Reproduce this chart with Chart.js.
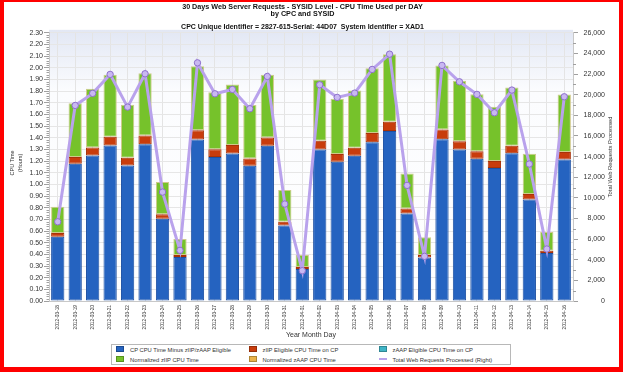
<!DOCTYPE html>
<html><head><meta charset="utf-8">
<script src="https://cdn.jsdelivr.net/npm/chart.js@4.4.1/dist/chart.umd.min.js"></script>
<style>
html,body{margin:0;padding:0;background:#fff;}
#wrap{position:relative;width:623px;height:372px;overflow:hidden;background:#fff;}
#c{position:absolute;left:0;top:0;}
#frame{position:absolute;left:0;top:0;width:623px;height:372px;box-sizing:border-box;border-style:solid;border-color:#ff0000;border-width:2px 4px 5px 4px;pointer-events:none;}
#legend{position:absolute;left:111px;top:344px;width:400px;height:21px;box-sizing:border-box;border:1px solid #b8b8b8;background:#fff;font-family:"Liberation Sans",Arial,sans-serif;font-size:5.8px;color:#333;}
.item{position:absolute;height:8px;line-height:8px;white-space:nowrap;}
.sw{display:inline-block;width:8px;height:6px;vertical-align:middle;margin-right:6px;box-sizing:border-box;border:1px solid rgba(0,0,0,.25);position:relative;top:-1px;}
.ln{display:inline-block;width:8px;height:2px;vertical-align:middle;margin-right:6px;position:relative;top:-1px;}
</style></head>
<body>
<div id="wrap">
<canvas id="c" width="623" height="372"></canvas>
<div id="legend"></div>
<div id="frame"></div>
</div>
<script>
const dates = ['2012-03-18','2012-03-19','2012-03-20','2012-03-21','2012-03-22','2012-03-23','2012-03-24','2012-03-25','2012-03-26','2012-03-27','2012-03-28','2012-03-29','2012-03-30','2012-03-31','2012-04-01','2012-04-02','2012-04-03','2012-04-04','2012-04-05','2012-04-06','2012-04-07','2012-04-08','2012-04-09','2012-04-10','2012-04-11','2012-04-12','2012-04-13','2012-04-14','2012-04-15','2012-04-16'];
const cpMinusEligible = [0.551,1.177,1.248,1.334,1.163,1.345,0.705,0.377,1.386,1.234,1.265,1.160,1.331,0.648,0.274,1.300,1.194,1.245,1.362,1.457,0.751,0.374,1.388,1.300,1.219,1.140,1.268,0.871,0.411,1.214];
const ziipEligibleOnCp = [0.032,0.057,0.069,0.074,0.065,0.075,0.040,0.017,0.079,0.068,0.072,0.063,0.072,0.032,0.017,0.074,0.066,0.069,0.078,0.080,0.043,0.020,0.083,0.071,0.066,0.060,0.063,0.046,0.020,0.063];
const zaapEligibleOnCp = [0,0,0,0,0,0,0,0,0,0,0,0,0,0,0,0,0,0,0,0,0,0,0,0,0,0,0,0,0,0];
const normalizedZiip = [0.225,0.463,0.503,0.532,0.455,0.534,0.275,0.137,0.549,0.489,0.520,0.457,0.537,0.271,0.103,0.526,0.474,0.492,0.557,0.580,0.300,0.152,0.549,0.517,0.489,0.465,0.500,0.345,0.160,0.494];
const normalizedZaap = [0,0,0,0,0,0,0,0,0,0,0,0,0,0,0,0,0,0,0,0,0,0,0,0,0,0,0,0,0,0];
const webRequests = [7680,18960,20130,21970,18800,22030,10560,4910,23090,20090,20510,18640,21770,9400,2940,20960,19740,20155,22450,23930,11210,4330,22840,21250,20030,18250,20450,13280,5040,19800];
const leftTicksMax = 2.30;
const rightTicksMax = 26000;

const FONT = '"Liberation Sans", Arial, sans-serif';

const series = [
  {label:'CP CPU Time Minus zIIP/zAAP Eligible', data:cpMinusEligible, color:'#2563c0', border:'#1d50a3'},
  {label:'zIIP Eligible CPU Time on CP', data:ziipEligibleOnCp, color:'#c83c0c', border:'#a83208'},
  {label:'zAAP Eligible CPU Time on CP', data:zaapEligibleOnCp, color:'#3fb4c6', border:'#2d95a5'},
  {label:'Normalized zIIP CPU Time', data:normalizedZiip, color:'#76c22b', border:'#cfc98a'},
  {label:'Normalized zAAP CPU Time', data:normalizedZaap, color:'#eab34a', border:'#c8922e'}
];
const lineColor = '#b9a2ec';

const datasets = series.map(s => ({
  type:'bar', label:s.label, data:s.data, backgroundColor:s.color, borderColor:s.border,
  borderWidth:1, borderSkipped:false, stack:'cpu', yAxisID:'y', order:1,
  barPercentage:0.76, categoryPercentage:1.0
}));
datasets.push({
  type:'line', label:'Total Web Requests Processed (Right)', data:webRequests, yAxisID:'y1', order:0,
  borderColor:lineColor, borderWidth:3, tension:0,
  pointRadius:3.2, pointBackgroundColor:'#c9b8f2', pointBorderColor:'#8e70cc', pointBorderWidth:1
});

const extras = {
  id:'extras',
  beforeDraw(chart){
    const ctx = chart.ctx, a = chart.chartArea;
    ctx.save();
    ctx.fillStyle = '#fff';
    ctx.fillRect(0,0,chart.width,chart.height);
    const g = ctx.createLinearGradient(0, a.top - 3, 0, a.bottom);
    g.addColorStop(0, '#e2e7f4');
    g.addColorStop(0.22, '#fbfcfe');
    g.addColorStop(1, '#ffffff');
    ctx.fillStyle = g;
    ctx.fillRect(a.left, a.top - 3, a.right - a.left, a.bottom - a.top + 3);
    ctx.restore();
  },
  afterDraw(chart){
    const ctx = chart.ctx, a = chart.chartArea;
    const y = chart.scales.y, y1 = chart.scales.y1;
    ctx.save();
    ctx.strokeStyle = '#a0a0a0';
    ctx.lineWidth = 1;
    ctx.beginPath();
    for (let i = 0; i <= 115; i++) {
      if (i % 5 === 0) continue;
      const p = Math.round(y.getPixelForValue(i * 0.02)) + 0.5;
      ctx.moveTo(a.left - 2.5, p); ctx.lineTo(a.left, p);
    }
    for (let i = 1; i < 26; i += 2) {
      const p = Math.round(y1.getPixelForValue(i * 1000)) + 0.5;
      ctx.moveTo(a.right, p); ctx.lineTo(a.right + 3, p);
    }
    ctx.stroke();
    ctx.fillStyle = '#333';
    ctx.textAlign = 'center';
    ctx.textBaseline = 'middle';
    ctx.font = '5.5px ' + FONT;
    const cy = (a.top + a.bottom) / 2 - 4;
    ctx.save(); ctx.translate(12.5, cy); ctx.rotate(-Math.PI/2); ctx.fillText('CPU Time', 0, 0); ctx.restore();
    ctx.save(); ctx.translate(20.5, cy); ctx.rotate(-Math.PI/2); ctx.fillText('(Hours)', 0, 0); ctx.restore();
    ctx.font = '5.8px ' + FONT;
    ctx.save(); ctx.translate(610.5, cy - 6); ctx.rotate(-Math.PI/2); ctx.fillText('Total Web Requests Processed', 0, 0); ctx.restore();
    ctx.restore();
  }
};

new Chart(document.getElementById('c'), {
  data:{labels:dates, datasets:datasets},
  options:{
    responsive:false, animation:false, devicePixelRatio:1,
    layout:{padding:{left:0, right:18, top:0, bottom:33}},
    plugins:{
      legend:{display:false}, tooltip:{enabled:false},
      title:{display:true, text:['30 Days Web Server Requests - SYSID Level - CPU Time Used per DAY','by CPC and SYSID'],
        color:'#111', font:{family:FONT, size:7.2, weight:'bold', lineHeight:1.05}, padding:{top:3, bottom:4}},
      subtitle:{display:true, text:'CPC Unique Identifier = 2827-615-Serial: 44D07  System Identifier = XAD1',
        color:'#111', font:{family:FONT, size:7, weight:'bold', lineHeight:1.1}, padding:{top:1, bottom:2}}
    },
    scales:{
      x:{
        stacked:true,
        grid:{offset:false, color:'#e4e4e4', drawTicks:false},
        border:{color:'#c8c8c8'},
        ticks:{autoSkip:false, minRotation:90, maxRotation:90, padding:4, color:'#333', font:{family:FONT, size:4.8}},
        title:{display:true, text:'Year Month Day', color:'#333', font:{family:FONT, size:7}, padding:{top:0, bottom:0}},
        afterFit(s){ s.height = 38; }
      },
      y:{
        stacked:true, position:'left', min:0, max:leftTicksMax,
        grid:{color:'#e6e6e6', tickColor:'#a0a0a0', tickLength:5},
        border:{color:'#c8c8c8'},
        ticks:{stepSize:0.1, padding:1, color:'#333', font:{family:FONT, size:7}, callback:v => Number(v).toFixed(2)},
        afterFit(s){ s.width = 49; }
      },
      y1:{
        position:'right', min:0, max:rightTicksMax,
        grid:{drawOnChartArea:false, tickColor:'#a0a0a0', tickLength:5},
        border:{color:'#c8c8c8'},
        ticks:{stepSize:2000, padding:4, crossAlign:'far', color:'#333', font:{family:FONT, size:7}, callback:v => Number(v).toLocaleString('en-US')},
        afterFit(s){ s.width = 32; }
      }
    }
  },
  plugins:[extras]
});

// HTML legend
const legendItems = [
  {label:series[0].label, color:series[0].color, kind:'box'},
  {label:series[1].label, color:series[1].color, kind:'box'},
  {label:series[2].label, color:series[2].color, kind:'box'},
  {label:series[3].label, color:series[3].color, kind:'box'},
  {label:series[4].label, color:series[4].color, kind:'box'},
  {label:'Total Web Requests Processed (Right)', color:lineColor, kind:'line'}
];
const colX = [4, 136.5, 266.5], rowY = [1, 10.5];
const lg = document.getElementById('legend');
legendItems.forEach((it, i) => {
  const d = document.createElement('div');
  d.className = 'item';
  d.style.left = colX[i % 3] + 'px';
  d.style.top = rowY[Math.floor(i / 3)] + 'px';
  const sw = document.createElement('span');
  sw.className = it.kind === 'line' ? 'ln' : 'sw';
  sw.style.background = it.color;
  d.appendChild(sw);
  d.appendChild(document.createTextNode(it.label));
  lg.appendChild(d);
});
</script>
</body></html>
